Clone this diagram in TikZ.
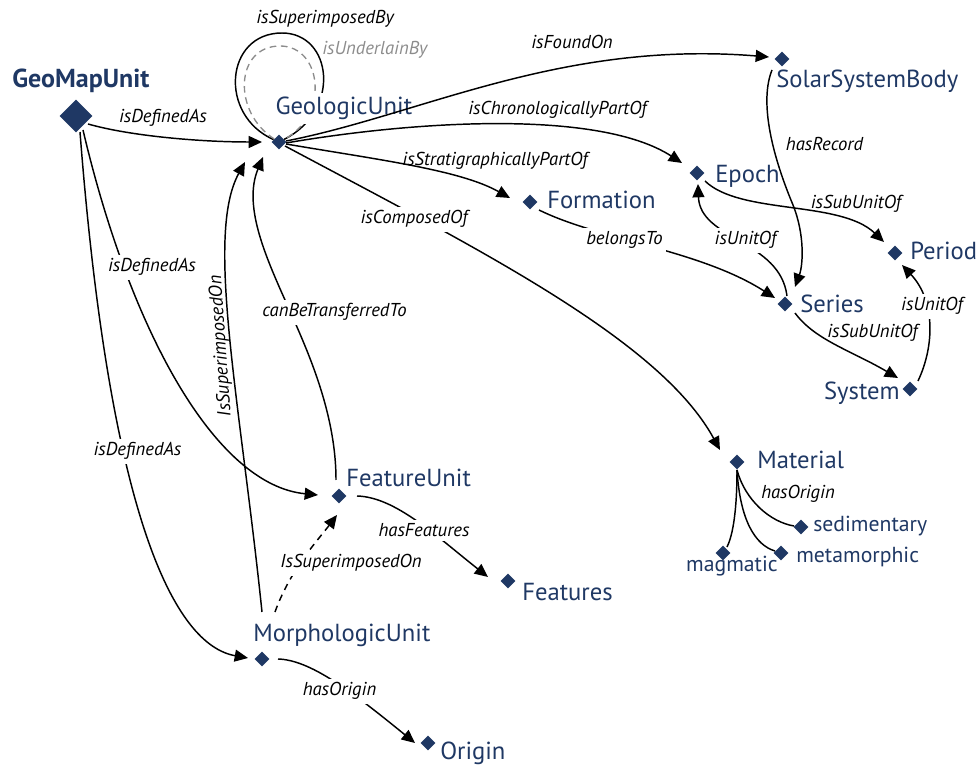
\documentclass[tikz,border=0pt]{standalone}
\usepackage{fontspec}
\setmainfont{PT Sans}
\usetikzlibrary{arrows.meta,shapes.geometric,calc}
\definecolor{navy}{RGB}{31,56,100}
\definecolor{loopgray}{RGB}{140,140,140}
\begin{document}
\begin{tikzpicture}[x=0.75pt,y=-0.75pt,
  dia/.style={diamond,fill=navy,inner sep=0pt,minimum size=11.25pt},
  nm/.style={text=navy,font=\fontsize{18.5}{22}\selectfont,inner sep=0pt,anchor=base west},
  sm/.style={nm,font=\fontsize{16.3}{20}\selectfont},
  el/.style={font=\itshape\fontsize{14}{16}\selectfont,inner sep=0pt,anchor=base},
  msk/.style={fill=white,inner xsep=2.5pt,inner ysep=3pt},
  con/.style={line width=1.1pt},
  arr/.style={con,-{Triangle[length=10pt,width=9pt]}}]
\useasboundingbox (0,0) rectangle (976,766);

% ---------- diamonds ----------
\node[dia,minimum size=24.75pt] (gmu) at (76,116) {};
\node[dia] (gu) at (279,142) {};
\node[dia] (ssb) at (782,59) {};
\node[dia] (epoch) at (697,173) {};
\node[dia] (form) at (530,202) {};
\node[dia] (period) at (895,253) {};
\node[dia] (series) at (785,304) {};
\node[dia] (system) at (910,389) {};
\node[dia] (mat) at (737,462) {};
\node[dia] (sed) at (801,527) {};
\node[dia] (meta) at (781,553) {};
\node[dia] (mag) at (723,553) {};
\node[dia] (fu) at (339,496) {};
\node[dia] (feat) at (508,581) {};
\node[dia] (mu) at (262,659) {};
\node[dia] (orig) at (428,743) {};

% ---------- self loops on GeologicUnit ----------
\draw[con] (gu) .. controls (218,115) and (225,33) .. (282,33)
               .. controls (332,33) and (342,110) .. (gu);
\draw[line width=1pt,loopgray,dash pattern=on 5pt off 3.5pt]
  (gu) .. controls (232,112) and (235,46) .. (280,46)
       .. controls (322,46) and (330,115) .. (gu);

% ---------- names ----------
\node[nm,font=\bfseries\fontsize{19.5}{22}\selectfont] (gmul) at (12,88) {GeoMapUnit};
\node[nm,fill=white,inner xsep=1pt,inner ysep=3pt] (gul) at (274,115) {GeologicUnit};
\node[nm] (ssbl) at (776,88) {SolarSystemBody};
\node[nm] (epochl) at (715,183) {Epoch};
\node[nm] (forml) at (547,209) {Formation};
\node[nm] (periodl) at (910,260) {Period};
\node[nm] (seriesl) at (800,313) {Series};
\node[nm,anchor=base east] (systeml) at (900,400) {System};
\node[nm] (matl) at (757,469) {Material};
\node[sm] (sedl) at (813,532) {sedimentary};
\node[sm] (metal) at (796,563) {metamorphic};
\node[sm,anchor=base east] (magl) at (778,572) {magmatic};
\node[nm] (ful) at (346,487) {FeatureUnit};
\node[nm] (featl) at (522,601) {Features};
\node[nm] (mul) at (253,642) {MorphologicUnit};
\node[nm] (origl) at (440,760) {Origin};

% ---------- connectors ----------
% GeoMapUnit isDefinedAs
\draw[arr] ($(gmu)+(12,8)$) .. controls (130,136) and (200,142) .. ($(gu)+(-17,0)$);
\draw[arr] ($(gmu)+(7,14)$) .. controls (130,330) and (215,485) .. ($(fu)+(-21,-1)$);
\draw[arr] ($(gmu)+(4,16)$) .. controls (110,520) and (175,645) .. ($(mu)+(-14,-1)$);
% MorphologicUnit IsSuperimposedOn GeologicUnit
\draw[arr] ($(mu)+(0,-47)$) .. controls (240,400) and (205,235) .. ($(gu)+(-34,20)$);
% FeatureUnit canBeTransferredTo GeologicUnit
\draw[arr] ($(fu)+(-3,-16)$) .. controls (336,410) and (305,345) .. (285,300)
                             .. controls (265,255) and (243,205) .. ($(gu)+(-16,15)$);
% MorphologicUnit IsSuperimposedOn FeatureUnit (dashed)
\draw[arr,dash pattern=on 5pt off 4pt] ($(mu)+(13,-47)$) .. controls (290,570) and (318,540) .. ($(fu)+(-2,19)$);
% hasFeatures
\draw[arr] ($(fu)+(18,0)$) .. controls (395,497) and (435,535) .. ($(feat)+(-20,-4)$);
% hasOrigin (MorphologicUnit)
\draw[arr] ($(mu)+(16,0)$) .. controls (310,660) and (350,690) .. ($(orig)+(-13,0)$);
% GeologicUnit outgoing
\draw[arr] ($(gu)+(7,-1)$) .. controls (420,115) and (560,40) .. ($(ssb)+(-13,-2)$);
\draw[arr] ($(gu)+(7,1)$) .. controls (420,120) and (600,110) .. ($(epoch)+(-15,-10)$);
\draw[arr] ($(gu)+(7,2)$) .. controls (380,160) and (460,170) .. ($(form)+(-20,-4)$);
\draw[arr] ($(gu)+(6,4)$) .. controls (480,250) and (660,340) .. ($(mat)+(-17,-12)$);
% belongsTo
\draw[arr] ($(form)+(9,8)$) .. controls (600,240) and (700,250) .. ($(series)+(-10,-6)$);
% Series isUnitOf Epoch
\draw[arr] ($(series)+(2,-8)$) .. controls (780,240) and (700,240) .. ($(epoch)+(1,11)$);
% hasRecord
\draw[arr] ($(ssb)+(-10,11)$) .. controls (760,100) and (770,150) .. (793,205)
                              .. controls (805,235) and (803,265) .. ($(series)+(10,-17)$);
% Epoch isSubUnitOf Period
\draw[arr] ($(epoch)+(8,8)$) .. controls (740,215) and (840,200) .. ($(period)+(-11,-11)$);
% Series isSubUnitOf System
\draw[arr] ($(series)+(10,9)$) .. controls (815,340) and (850,350) .. ($(system)+(-12,-11)$);
% System isUnitOf Period
\draw[arr] ($(system)+(8,-8)$) .. controls (935,345) and (935,300) .. ($(period)+(7,12)$);
% Material hasOrigin
\draw[con] ($(mat)+(0,8)$) .. controls (745,500) and (770,522) .. ($(sed)+(-7,-1)$);
\draw[con] ($(mat)+(0,8)$) .. controls (740,520) and (755,545) .. ($(meta)+(-6,-2)$);
\draw[con] ($(mat)+(0,8)$) .. controls (737,510) and (733,535) .. ($(mag)+(4,-6)$);

% ---------- connector labels ----------
\node[el] (l1) at (325,24) {isSuperimposedBy};
\node[el,text=loopgray,anchor=base west] (l2) at (322,55) {isUnderlainBy};
\node[el] (l3) at (163,123) {isDefinedAs};
\node[el,msk] (l4) at (152,272) {isDefinedAs};
\node[el,msk] (l5) at (137.5,456) {isDefinedAs};
\node[el,anchor=center,rotate=94] (l6) at (221,346) {IsSuperimposedOn};
\node[el,msk] (l7) at (334.5,317) {canBeTransferredTo};
\node[el,msk] (l8) at (351,568) {IsSuperimposedOn};
\node[el,msk] (l9) at (424,537) {hasFeatures};
\node[el,msk] (l10) at (339.5,696) {hasOrigin};
\node[el] (l11) at (572,49) {isFoundOn};
\node[el] (l12) at (557.5,115) {isChronologicallyPartOf};
\node[el] (l13) at (495,166) {isStratigraphicallyPartOf};
\node[el,msk] (l14) at (414,224) {isComposedOf};
\node[el,msk] (l15) at (624.5,245) {belongsTo};
\node[el,msk] (l16) at (745.5,245) {isUnitOf};
\node[el] (l17) at (824.5,151) {hasRecord};
\node[el] (l18) at (856,209) {isSubUnitOf};
\node[el] (l19) at (872.5,338) {isSubUnitOf};
\node[el,msk] (l20) at (932,311) {isUnitOf};
\node[el] (l21) at (798,499) {hasOrigin};
\end{tikzpicture}
\end{document}
